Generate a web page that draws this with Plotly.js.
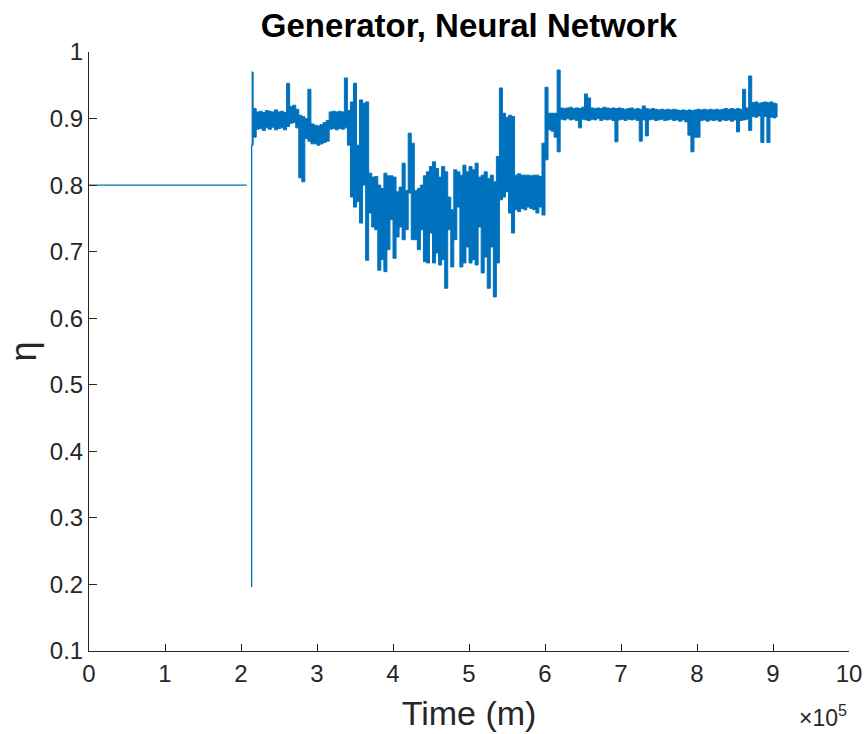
<!DOCTYPE html>
<html>
<head>
<meta charset="utf-8">
<script src="https://cdn.plot.ly/plotly-3.0.1.min.js"></script>
<style>html,body{margin:0;padding:0;background:#fff;}#chart{width:866px;height:734px;}</style>
</head>
<body>
<div id="chart"></div>
<script>
// ---- data ----
// initial constant part (thin line), then the single drop sample
var flatTime = [0, 207500];
var flatEta  = [0.8, 0.8];
var dropTime = [214000, 214000];
var dropEta  = [0.196, 0.860];

// dense part: per time column, lowest and highest value seen (time in minutes)
var bandTime = [214000,218000,222000,226000,230000,234000,238000,242000,246000,250000,
254000,258000,262000,266000,270000,274000,278000,282000,286000,290000,
294000,298000,302000,306000,310000,314000,318000,322000,326000,330000,
334000,338000,342000,346000,350000,354000,358000,362000,366000,370000,
374000,378000,382000,386000,390000,394000,398000,402000,406000,410000,
414000,418000,422000,426000,430000,434000,438000,442000,446000,450000,
454000,458000,462000,466000,470000,474000,478000,482000,486000,490000,
494000,498000,502000,506000,510000,514000,518000,522000,526000,530000,
534000,538000,542000,546000,550000,554000,558000,562000,566000,570000,
574000,578000,582000,586000,590000,594000,598000,602000,606000,610000,
614000,618000,622000,626000,630000,634000,638000,642000,646000,650000,
654000,658000,662000,666000,670000,674000,678000,682000,686000,690000,
694000,698000,702000,706000,710000,714000,718000,722000,726000,730000,
734000,738000,742000,746000,750000,754000,758000,762000,766000,770000,
774000,778000,782000,786000,790000,794000,798000,802000,806000,810000,
814000,818000,822000,826000,830000,834000,838000,842000,846000,850000,
854000,858000,862000,866000,870000,874000,878000,882000,886000,890000,
894000,898000,902000,906000];

var bandHigh = [0.970,0.915,0.910,0.911,0.909,0.912,0.911,0.910,0.913,0.910,
0.911,0.909,0.953,0.918,0.920,0.914,0.905,0.903,0.900,0.944,
0.892,0.890,0.889,0.891,0.894,0.897,0.910,0.911,0.910,0.911,
0.910,0.961,0.912,0.925,0.953,0.860,0.928,0.923,0.925,0.818,
0.812,0.813,0.800,0.795,0.818,0.814,0.814,0.812,0.790,0.797,
0.833,0.792,0.878,0.863,0.792,0.795,0.800,0.814,0.820,0.828,
0.835,0.825,0.812,0.828,0.820,0.782,0.763,0.823,0.820,0.815,
0.830,0.820,0.828,0.823,0.833,0.812,0.815,0.820,0.810,0.815,
0.805,0.843,0.946,0.908,0.902,0.905,0.903,0.815,0.817,0.815,
0.815,0.815,0.814,0.815,0.815,0.813,0.863,0.947,0.908,0.908,
0.908,0.973,0.916,0.915,0.916,0.917,0.915,0.916,0.915,0.917,
0.937,0.931,0.916,0.915,0.916,0.915,0.917,0.916,0.915,0.916,
0.915,0.916,0.915,0.914,0.915,0.916,0.914,0.915,0.914,0.919,
0.915,0.914,0.915,0.914,0.913,0.914,0.913,0.914,0.913,0.914,
0.913,0.912,0.913,0.912,0.913,0.912,0.913,0.914,0.913,0.914,
0.913,0.914,0.913,0.914,0.913,0.914,0.915,0.914,0.915,0.914,
0.915,0.914,0.944,0.916,0.964,0.924,0.925,0.923,0.924,0.925,
0.924,0.925,0.923,0.922];

var bandLow = [0.860,0.872,0.884,0.885,0.882,0.886,0.884,0.887,0.883,0.885,
0.886,0.883,0.888,0.893,0.894,0.886,0.811,0.805,0.870,0.866,
0.862,0.862,0.860,0.862,0.864,0.866,0.884,0.885,0.883,0.885,
0.884,0.886,0.860,0.782,0.767,0.775,0.743,0.800,0.687,0.758,
0.737,0.733,0.672,0.688,0.670,0.703,0.748,0.690,0.722,0.737,
0.718,0.733,0.788,0.718,0.718,0.703,0.733,0.685,0.683,0.728,
0.683,0.698,0.680,0.688,0.645,0.733,0.677,0.718,0.767,0.677,
0.683,0.707,0.683,0.688,0.680,0.737,0.668,0.692,0.645,0.707,
0.632,0.683,0.778,0.782,0.790,0.758,0.728,0.763,0.760,0.765,
0.763,0.767,0.765,0.763,0.758,0.767,0.755,0.838,0.883,0.881,
0.872,0.850,0.899,0.898,0.900,0.898,0.899,0.897,0.886,0.899,
0.898,0.897,0.899,0.898,0.900,0.897,0.899,0.898,0.899,0.897,
0.865,0.898,0.899,0.897,0.899,0.898,0.899,0.897,0.866,0.898,
0.874,0.898,0.899,0.897,0.898,0.899,0.897,0.898,0.899,0.897,
0.898,0.896,0.898,0.895,0.875,0.850,0.872,0.872,0.897,0.898,
0.896,0.898,0.897,0.898,0.896,0.898,0.897,0.898,0.896,0.898,
0.880,0.897,0.898,0.899,0.882,0.903,0.902,0.904,0.864,0.903,
0.864,0.902,0.901,0.903];

var xTickVals = [0,100000,200000,300000,400000,500000,600000,700000,800000,900000,1000000];
var xTickText = ['0','1','2','3','4','5','6','7','8','9','10'];

// ---- build traces ----
var thinX = flatTime.concat([null], dropTime);
var thinY = flatEta.concat([null], dropEta);

var blue = '#0072BD';
var axColor = '#262626';
var fontFam = '"Liberation Sans", Arial, Helvetica, sans-serif';

var data = [
  {x: thinX, y: thinY, type: 'scatter', mode: 'lines', line: {color: blue, width: 1.3, simplify: false}, hoverinfo: 'skip', showlegend: false},
  {x: bandTime, y: bandLow, type: 'scatter', mode: 'lines',
   line: {color: blue, width: 1, shape: 'hvh', simplify: false}, showlegend: false},
  {x: bandTime, y: bandHigh, type: 'scatter', mode: 'lines', fill: 'tonexty', fillcolor: blue,
   line: {color: blue, width: 1, shape: 'hvh', simplify: false}, showlegend: false}
];

var layout = {
  width: 866, height: 734,
  margin: {l: 89, r: 17, t: 52, b: 83},
  paper_bgcolor: '#fff', plot_bgcolor: '#fff',
  font: {family: fontFam, color: axColor, size: 24},
  title: {text: '<b>Generator, Neural Network</b>', font: {family: fontFam, size: 33, color: '#000'},
          x: 0.5, xref: 'paper', xanchor: 'center', y: 0.966, yref: 'container', yanchor: 'middle'},
  xaxis: {
    range: [0, 1000000], tickmode: 'array', tickvals: xTickVals, ticktext: xTickText,
    showline: true, linecolor: axColor, linewidth: 1, mirror: false,
    ticks: 'inside', ticklen: 7.5, tickwidth: 1, tickcolor: axColor,
    showgrid: false, zeroline: false, tickfont: {size: 24, color: axColor},
    ticklabelstandoff: 1,
    title: {text: 'Time (m)', font: {size: 34, color: axColor}, standoff: 15}
  },
  yaxis: {
    range: [0.1, 1], tickmode: 'linear', tick0: 0.1, dtick: 0.1,
    showline: true, linecolor: axColor, linewidth: 1, mirror: false,
    ticks: 'inside', ticklen: 7.5, tickwidth: 1, tickcolor: axColor,
    showgrid: false, zeroline: false, tickfont: {size: 24, color: axColor},
    ticklabelstandoff: 0,
    title: {text: 'η', font: {size: 36, color: axColor}, standoff: 2}
  },
  annotations: [{
    text: '×10<sup>5</sup>', xref: 'paper', yref: 'paper', x: 1, y: -0.108,
    xanchor: 'right', yanchor: 'middle', showarrow: false, font: {size: 23, color: axColor}
  }]
};

Plotly.newPlot('chart', data, layout, {staticPlot: true, displayModeBar: false});
</script>
</body>
</html>
